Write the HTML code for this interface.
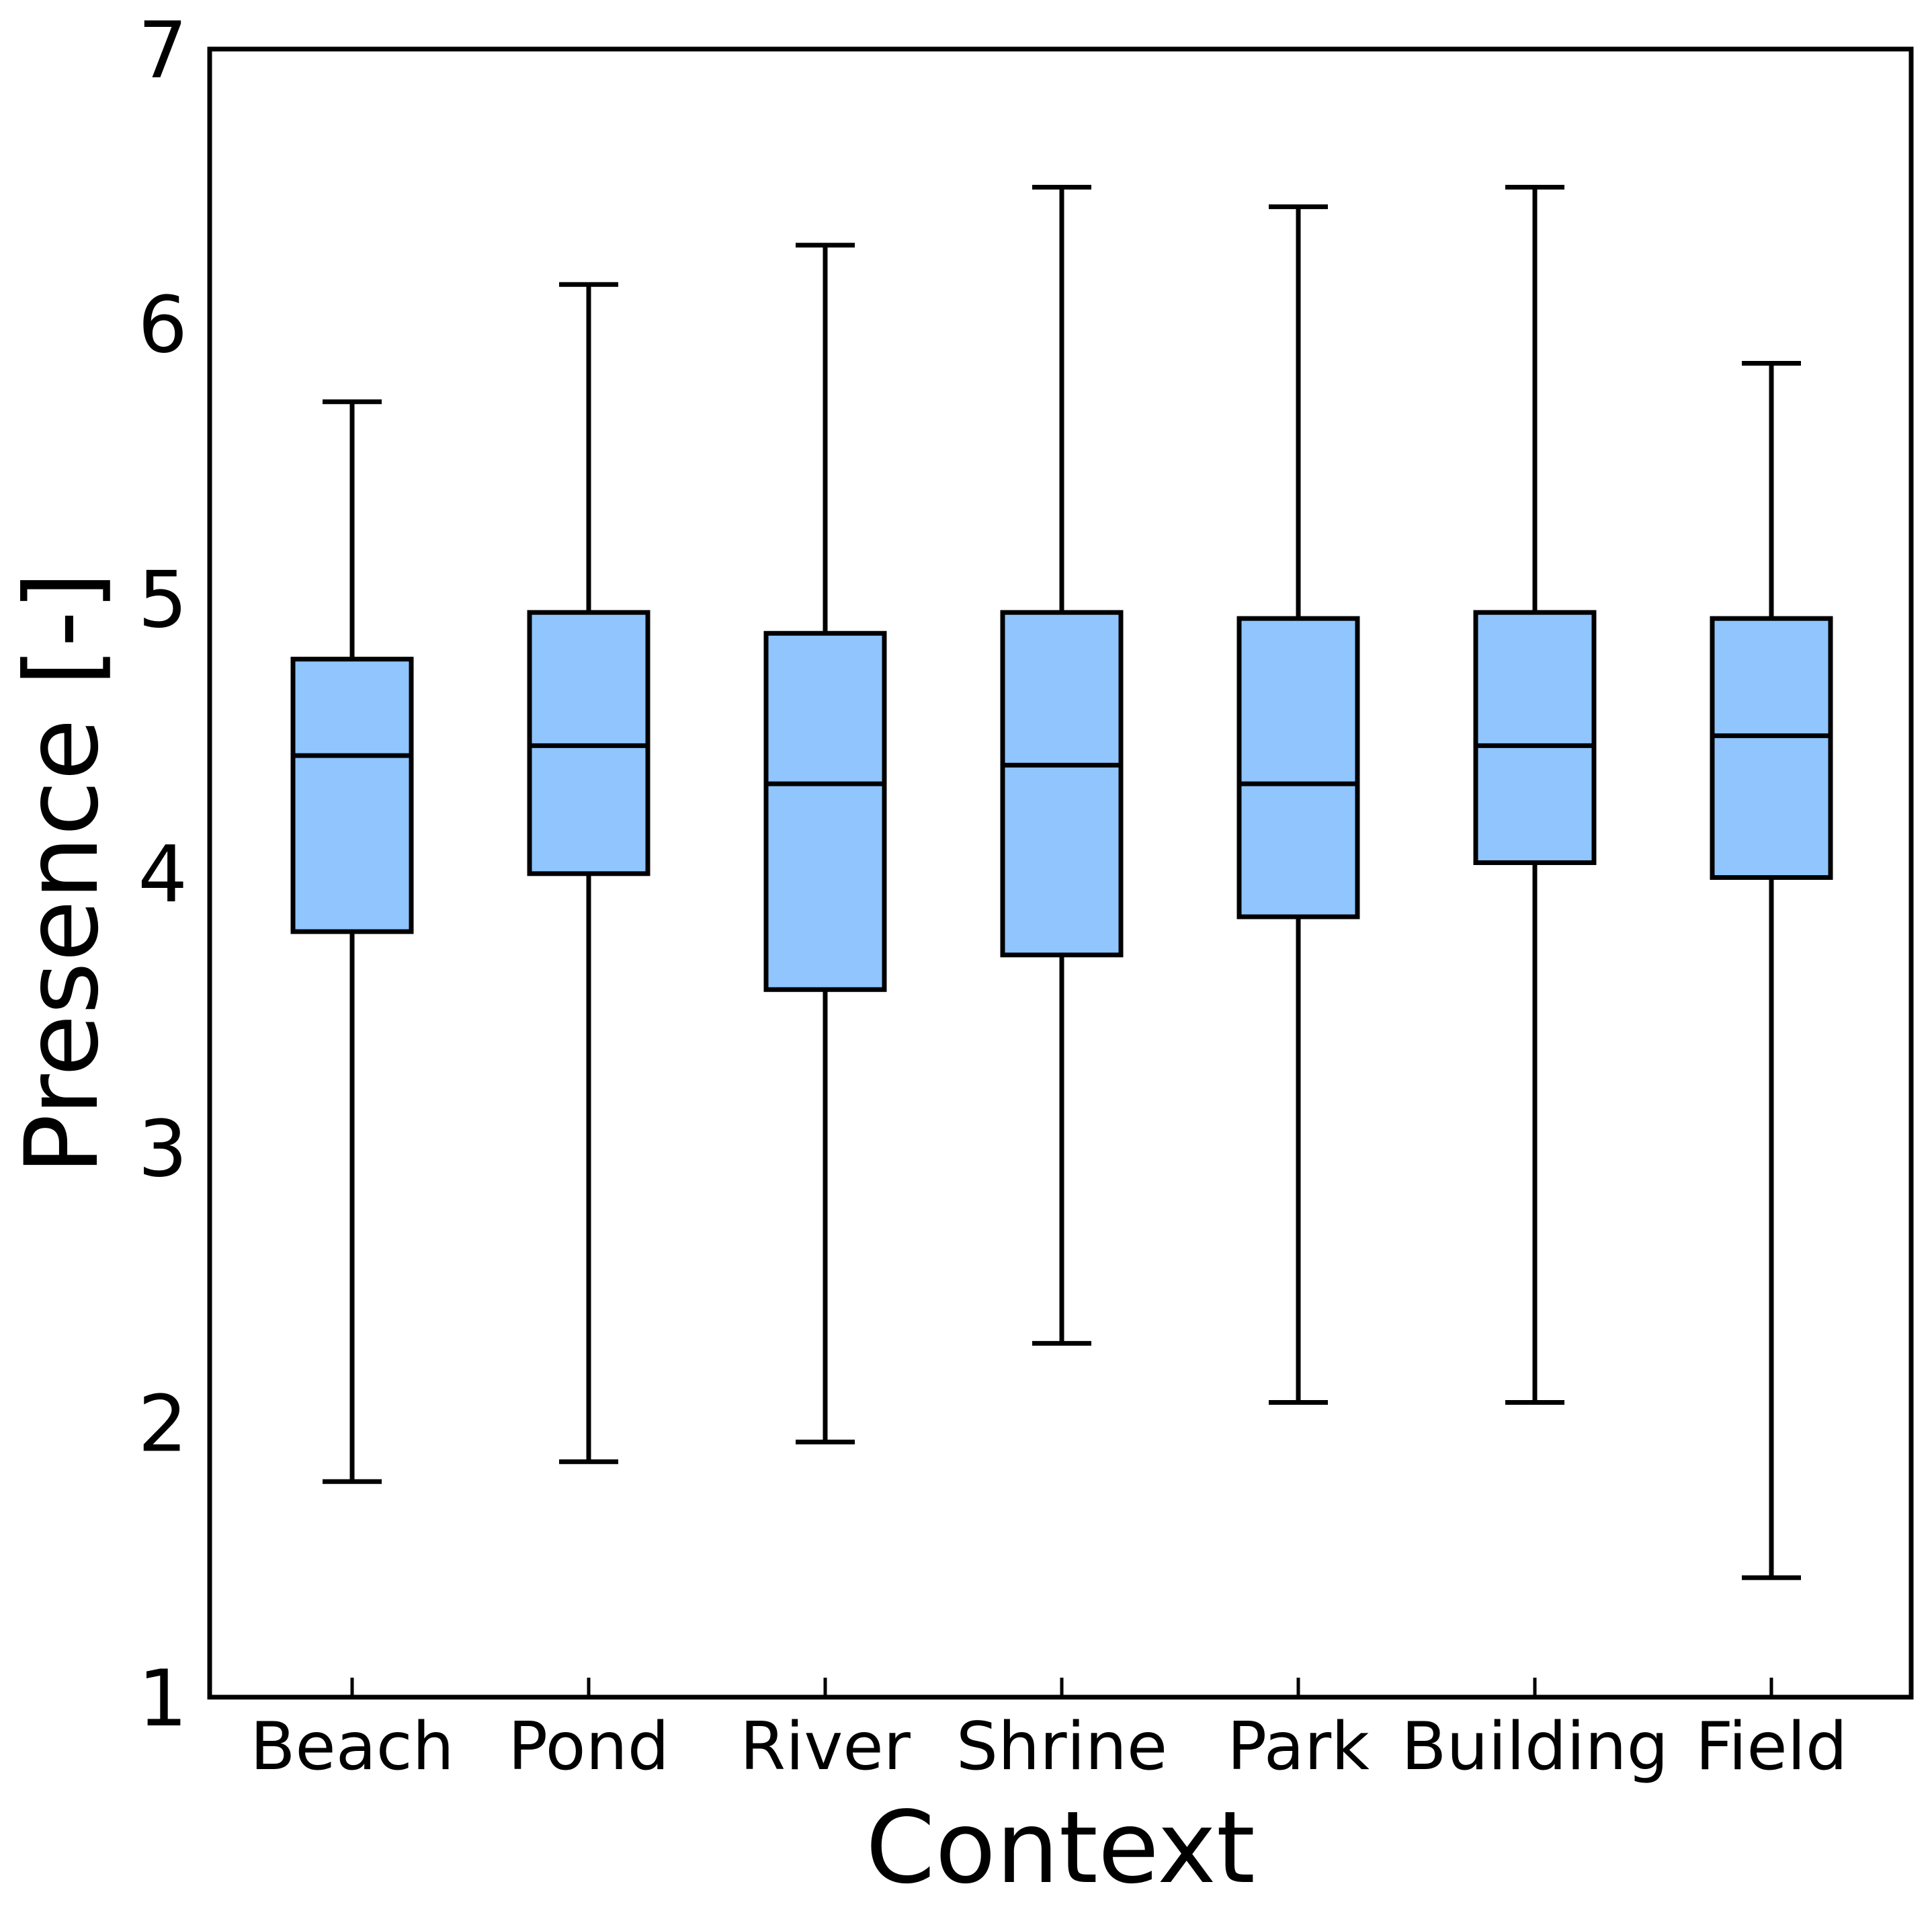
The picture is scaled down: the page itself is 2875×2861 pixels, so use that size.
<!DOCTYPE html>
<html><head><meta charset="utf-8"><style>
html,body{margin:0;padding:0;background:#fff}
svg{display:block}
text{font-family:"DejaVu Sans","Liberation Sans",sans-serif;fill:#000}
</style></head><body>
<svg id="chart" width="2875" height="2861" viewBox="0 0 2875 2861" xmlns="http://www.w3.org/2000/svg"></svg>
<script>
const categories = ["Beach","Pond","River","Shrine","Park","Building","Field"];
const whiskerHigh = [5.716,6.143,6.286,6.497,6.426,6.497,5.856];
const q3Values   = [4.779,4.949,4.873,4.949,4.927,4.949,4.927];
const medians    = [4.428,4.464,4.325,4.393,4.325,4.464,4.500];
const q1Values   = [3.787,3.998,3.576,3.702,3.841,4.038,3.984];
const whiskerLow = [1.785,1.857,1.929,2.288,2.073,2.073,1.435];
const yTicks = [1,2,3,4,5,6,7];

const svg = document.getElementById('chart');
const NS = 'http://www.w3.org/2000/svg';
const L=312, R=2844, T=73, B=2525;
const yMin=1, yMax=7;
function y(v){return B-(v-yMin)/(yMax-yMin)*(B-T);}
function x(i){return 524+i*352;}
function mk(tag,attrs){const e=document.createElementNS(NS,tag);for(const k in attrs)e.setAttribute(k,attrs[k]);svg.appendChild(e);return e;}
const bw=176, cw=88, sw=7;
categories.forEach((c,i)=>{
  const cx=x(i);
  let e;
  e=mk('line',{x1:cx,x2:cx,y1:y(q3Values[i]),y2:y(whiskerHigh[i]),stroke:'#000','stroke-width':sw});
  
  
  e=mk('line',{x1:cx,x2:cx,y1:y(q1Values[i]),y2:y(whiskerLow[i]),stroke:'#000','stroke-width':sw});
  
  
  e=mk('line',{x1:cx-cw/2,x2:cx+cw/2,y1:y(whiskerHigh[i]),y2:y(whiskerHigh[i]),stroke:'#000','stroke-width':sw});
  
  
  e=mk('line',{x1:cx-cw/2,x2:cx+cw/2,y1:y(whiskerLow[i]),y2:y(whiskerLow[i]),stroke:'#000','stroke-width':sw});
  
  
  e=mk('rect',{x:cx-bw/2,y:y(q3Values[i]),width:bw,height:y(q1Values[i])-y(q3Values[i]),fill:'#90c5fd',stroke:'#000','stroke-width':sw});
  
  
  e=mk('line',{x1:cx-bw/2,x2:cx+bw/2,y1:y(medians[i]),y2:y(medians[i]),stroke:'#000','stroke-width':sw});
  
  
  e=mk('line',{x1:cx,x2:cx,y1:B,y2:B-29,stroke:'#000','stroke-width':5});
  
  
  e=mk('text',{x:cx,y:2632,'font-size':98,'text-anchor':'middle'});
  e.textContent=c;
  
  
});
yTicks.forEach(t=>{
  const e=mk('text',{x:279,y:y(t)+42,'font-size':116,'text-anchor':'end'});
  e.textContent=t;
  
  
});
let f=mk('rect',{x:L,y:T,width:R-L,height:B-T,fill:'none',stroke:'#000','stroke-width':sw});


let xl=mk('text',{x:1578,y:2800,'font-size':148,'text-anchor':'middle'});
xl.textContent='Context';


let yl=mk('text',{x:0,y:0,'font-size':150,'text-anchor':'middle',transform:'translate(144,1299) rotate(-90)'});
yl.textContent='Presence [-]';


</script>
</body></html>
